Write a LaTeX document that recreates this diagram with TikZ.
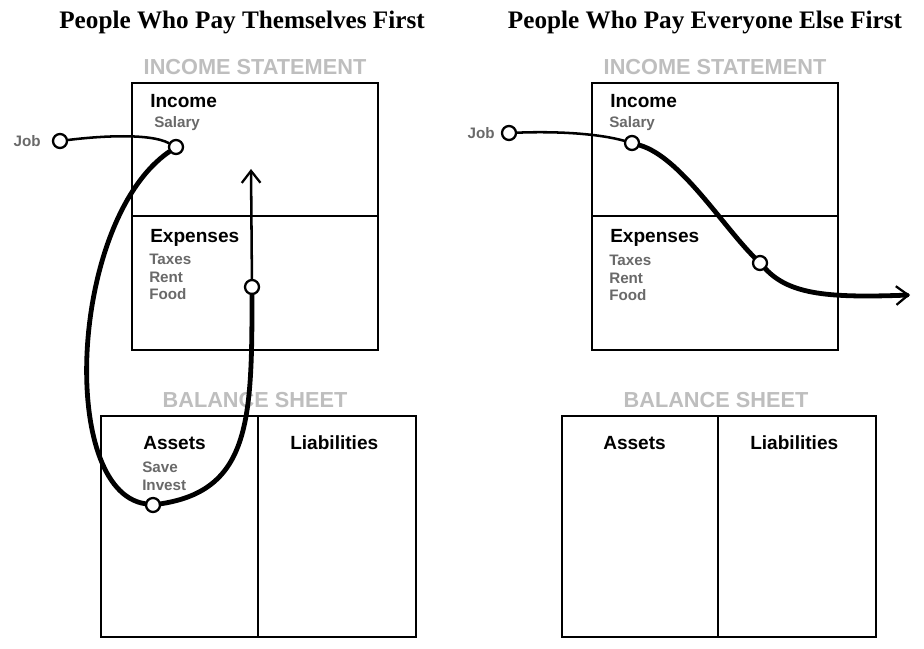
\documentclass[tikz,border=0pt]{standalone}
\usepackage{fontspec}
\setmainfont{Liberation Serif}
\setsansfont{Liberation Sans}
\usetikzlibrary{arrows.meta}
\definecolor{headgray}{RGB}{190,190,190}
\definecolor{itemgray}{RGB}{105,105,105}
\tikzset{
  title/.style={font=\rmfamily\bfseries\fontsize{18.9}{18.9}\selectfont},
  sheet/.style={font=\sffamily\bfseries\fontsize{16.3}{16.3}\selectfont, text=headgray},
  heading/.style={font=\sffamily\bfseries\fontsize{14.3}{14.3}\selectfont, anchor=west, inner sep=0pt},
  item/.style={font=\sffamily\bfseries\fontsize{11.4}{13}\selectfont, text=itemgray, anchor=west, align=left, inner sep=0pt},
  cell/.style={draw, line width=2.2pt},
  dot/.style={circle, draw, fill=white, line width=1.7pt, inner sep=0pt, minimum size=10.5pt},
  flow/.style={line width=3.6pt, line cap=round},
  thin flow/.style={line width=1.9pt, line cap=round},
  tip/.style={-{Straight Barb[length=9pt, width=14pt, line width=1.7pt]}}
}
\begin{document}
\begin{tikzpicture}[x=0.75pt, y=-0.75pt]
\useasboundingbox (0,0) rectangle (924,649);
% titles
\node[title] (lefttitle) at (242,22) {People Who Pay Themselves First};
\node[title] (righttitle) at (705,22) {People Who Pay Everyone Else First};

% left: income statement
\node[sheet] (lincst) at (255,67) {INCOME STATEMENT};
\draw[cell] (132,83) rectangle (378,350);
\draw[cell] (132,216) -- (378,216);
\node[heading] (linc) at (150,101) {Income};
\node[item] (lsalary) at (154,124) {Salary};
\node[heading] (lexpenses) at (150,238) {Expenses};
\node[item, anchor=north west] (lcosts) at (149,254) {Taxes\\Rent\\Food};
\node[item, anchor=east] (ljoblabel) at (41,141) {Job};

% left: balance sheet
\node[sheet] (lbal) at (255,400) {BALANCE SHEET};
\draw[cell] (101,416) rectangle (416,637);
\draw[cell] (258,416) -- (258,637);
\node[heading] (lassets) at (143,443) {Assets};
\node[heading] (lliab) at (290,443) {Liabilities};
\node[item, anchor=north west] (lsave) at (142,462) {Save\\Invest};

% left: cash flow
\node[dot] (ljob) at (60,141) {};
\node[dot] (lsal) at (176,147) {};
\node[dot] (lexp) at (252,287) {};
\node[dot] (linv) at (153,505) {};
\coordinate (ltip) at (251,169);
\draw[thin flow] (ljob) .. controls (100,136) and (150,133) .. (lsal);
\draw[flow] (lsal) .. controls (70,220) and (58,490) .. (linv);
\draw[flow] (linv) .. controls (250,490) and (252,420) .. (lexp);
\draw[thin flow, tip] (lexp) -- (ltip);

% right: income statement
\node[sheet] (rincst) at (715,67) {INCOME STATEMENT};
\draw[cell] (592,83) rectangle (838,350);
\draw[cell] (592,216) -- (838,216);
\node[heading] (rinc) at (610,101) {Income};
\node[item] (rsalary) at (609,124) {Salary};
\node[heading] (rexpenses) at (610,238) {Expenses};
\node[item, anchor=north west] (rcosts) at (609,255) {Taxes\\Rent\\Food};
\node[item, anchor=east] (rjoblabel) at (495,133) {Job};

% right: balance sheet
\node[sheet] (rbal) at (716,400) {BALANCE SHEET};
\draw[cell] (562,416) rectangle (876,637);
\draw[cell] (718,416) -- (718,637);
\node[heading] (rassets) at (603,443) {Assets};
\node[heading] (rliab) at (750,443) {Liabilities};

% right: cash flow
\node[dot] (rjob) at (509,133) {};
\node[dot] (rsal) at (632,143) {};
\node[dot] (rexp) at (760,263) {};
\coordinate (rtip) at (910,295);
\draw[thin flow] (rjob) .. controls (560,131) and (600,134) .. (rsal);
\draw[flow] (rsal) .. controls (680,157) and (722,225) .. (rexp);
\draw[flow, tip] (rexp) .. controls (790,295) and (830,298) .. (rtip);
\end{tikzpicture}
\end{document}
